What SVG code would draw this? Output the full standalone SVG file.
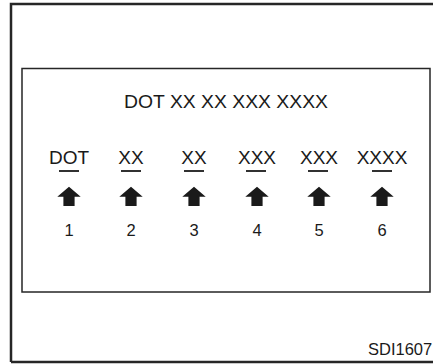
<svg xmlns="http://www.w3.org/2000/svg" xmlns:xlink="http://www.w3.org/1999/xlink" width="433" height="364" viewBox="0 0 433 364">
<style>
.t{font-family:"Liberation Sans",Arial,sans-serif;fill:#1a1a1a;text-anchor:middle}
.lbl{font-size:19px}
.num{font-size:16.5px}
.ul{stroke:#1a1a1a;stroke-width:1.8}
</style>
<defs>
<path id="arw" d="M0,-10 L11.7,0 L5.6,0 L5.6,9.3 L-5.6,9.3 L-5.6,0 L-11.7,0 Z" fill="#1a1a1a"/>
</defs>
<rect x="0" y="0" width="433" height="364" fill="#fff"/>
<g id="frame">
<path d="M11,362 L11,4 L440,4 M11,362 L440,362" fill="none" stroke="#262626" stroke-width="2.5"/>
<rect x="22" y="68.5" width="408" height="223.5" fill="none" stroke="#262626" stroke-width="1.5"/>
</g>
<g id="title"><text class="t" x="226" y="107.5" font-size="18" textLength="204" lengthAdjust="spacingAndGlyphs">DOT XX XX XXX XXXX</text></g>
<g id="col1">
<text class="t lbl" x="69" y="164.3">DOT</text>
<line class="ul" x1="59" y1="171" x2="79" y2="171"/>
<use xlink:href="#arw" x="69" y="196.7"/>
<text class="t num" x="69" y="236">1</text>
</g>
<g id="col2">
<text class="t lbl" x="131" y="164.3">XX</text>
<line class="ul" x1="121" y1="171" x2="141" y2="171"/>
<use xlink:href="#arw" x="131" y="196.7"/>
<text class="t num" x="131" y="236">2</text>
</g>
<g id="col3">
<text class="t lbl" x="194" y="164.3">XX</text>
<line class="ul" x1="184" y1="171" x2="204" y2="171"/>
<use xlink:href="#arw" x="194" y="196.7"/>
<text class="t num" x="194" y="236">3</text>
</g>
<g id="col4">
<text class="t lbl" x="257" y="164.3">XXX</text>
<line class="ul" x1="246" y1="171" x2="266" y2="171"/>
<use xlink:href="#arw" x="257" y="196.7"/>
<text class="t num" x="257" y="236">4</text>
</g>
<g id="col5">
<text class="t lbl" x="319" y="164.3">XXX</text>
<line class="ul" x1="308" y1="171" x2="328" y2="171"/>
<use xlink:href="#arw" x="319" y="196.7"/>
<text class="t num" x="319" y="236">5</text>
</g>
<g id="col6">
<text class="t lbl" x="382" y="164.3">XXXX</text>
<line class="ul" x1="372" y1="171" x2="392" y2="171"/>
<use xlink:href="#arw" x="382" y="196.7"/>
<text class="t num" x="382" y="236">6</text>
</g>
<g id="connectors"/>
<g id="code"><text x="368" y="355" font-family="'Liberation Sans',Arial,sans-serif" font-size="16.5" fill="#1a1a1a">SDI1607</text></g>
</svg>
